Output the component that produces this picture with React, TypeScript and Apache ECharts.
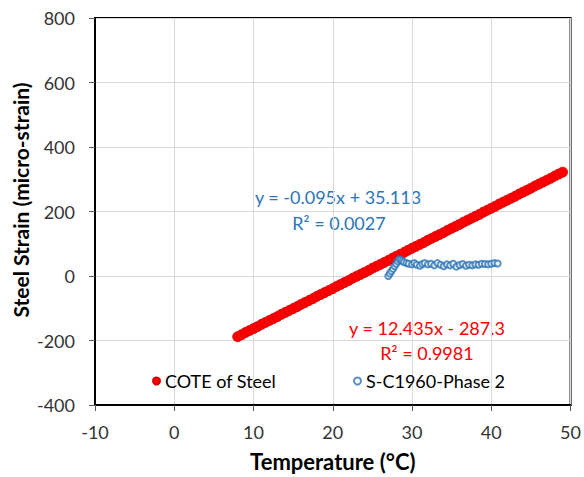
import React, { useEffect, useRef } from "react";
import * as echarts from "echarts";

const xTicks = { min: -10, max: 50, interval: 10 };
const yTicks = { min: -400, max: 800, interval: 200 };

const coteTemps = [
  8.0, 8.5, 9.0, 9.5, 10.0, 10.5, 11.0, 11.5, 12.0, 12.5, 13.0, 13.5, 14.0, 14.5, 15.0, 15.5,
  16.0, 16.5, 17.0, 17.5, 18.0, 18.5, 19.0, 19.5, 20.0, 20.5, 21.0, 21.5, 22.0, 22.5, 23.0, 23.5,
  24.0, 24.5, 25.0, 25.5, 26.0, 26.5, 27.0, 27.5, 28.0, 28.5, 29.0, 29.5, 30.0, 30.5, 31.0, 31.5,
  32.0, 32.5, 33.0, 33.5, 34.0, 34.5, 35.0, 35.5, 36.0, 36.5, 37.0, 37.5, 38.0, 38.5, 39.0, 39.5,
  40.0, 40.5, 41.0, 41.5, 42.0, 42.5, 43.0, 43.5, 44.0, 44.5, 45.0, 45.5, 46.0, 46.5, 47.0, 47.5,
  48.0, 48.5, 49.0,
];
const coteStrains = [
  -188, -182, -175, -169, -163, -157, -150, -144, -138, -132, -126, -119, -113, -107, -101, -95,
  -88, -82, -76, -70, -63, -57, -51, -45, -39, -32, -26, -20, -14, -7, -1, 5,
  11, 17, 24, 30, 36, 42, 48, 55, 61, 67, 73, 80, 86, 92, 98, 104,
  111, 117, 123, 129, 135, 142, 148, 154, 160, 167, 173, 179, 185, 191, 198, 204,
  210, 216, 223, 229, 235, 241, 247, 254, 260, 266, 272, 279, 285, 291, 297, 303,
  310, 316, 322,
];

const scTemps = [
  27.0, 27.2, 27.4, 27.6, 27.8, 28.0, 28.2, 28.4, 28.6, 28.8, 29.0, 29.3, 29.6, 30.0, 30.3, 30.6,
  31.0, 31.3, 31.6, 32.0, 32.4, 32.8, 33.2, 33.6, 34.0, 34.4, 34.8, 35.2, 35.6, 36.0, 36.4, 36.8,
  37.2, 37.6, 38.0, 38.4, 38.8, 39.2, 39.6, 40.0, 40.4, 40.8,
];
const scStrains = [
  0, 8, 15, 22, 30, 38, 46, 52, 50, 46, 43, 40, 38, 36, 40, 35,
  32, 37, 40, 36, 38, 33, 40, 35, 30, 36, 33, 38, 29, 34, 37, 32,
  35, 33, 36, 35, 38, 37, 36, 38, 40, 39,
];

const seriesNames = ["COTE of Steel", "S-C1960-Phase 2"];
const axisTitles = { x: "Temperature (°C)", y: "Steel Strain (micro-strain)" };
const blueEq = ["y = -0.095x + 35.113", "R² = 0.0027"];
const redEq = ["y = 12.435x - 287.3", "R² = 0.9981"];

const FONT = "Lato, 'Open Sans', sans-serif";
const RED = "#ff0000";
const BLUE = "#2e75b6";

export default function App() {
  const ref = useRef<HTMLDivElement>(null);
  useEffect(() => {
    if (!ref.current) return;
    const chart = echarts.init(ref.current, undefined, { renderer: "svg" });
    const cote = coteTemps.map((t, i) => [t, coteStrains[i]]);
    const sc = scTemps.map((t, i) => [t, scStrains[i]]);
    const eqText = (text: string, x: number, y: number, fill: string) => ({
      type: "text",
      x,
      y,
      style: { text, fill, font: `18px ${FONT}`, align: "center", verticalAlign: "middle" },
    });
    chart.setOption({
      animation: false,
      backgroundColor: "#fff",
      textStyle: { fontFamily: FONT },
      grid: {
        left: 95,
        top: 18,
        right: 10,
        bottom: 67,
        show: true,
        borderColor: "#000",
        borderWidth: 2,
      },
      xAxis: {
        type: "value",
        min: xTicks.min,
        max: xTicks.max,
        interval: xTicks.interval,
        name: axisTitles.x,
        nameLocation: "middle",
        nameGap: 45,
        nameTextStyle: { fontSize: 22, fontWeight: "bold", color: "#000", fontFamily: FONT },
        axisLine: { show: true, onZero: false, lineStyle: { color: "#000", width: 2 } },
        axisTick: { show: true, inside: false, length: 6, lineStyle: { color: "#595959" } },
        axisLabel: { fontSize: 18, color: "#333", margin: 18, fontFamily: FONT },
        splitLine: { show: true, lineStyle: { color: "#d9d9d9", width: 1 } },
      },
      yAxis: {
        type: "value",
        min: yTicks.min,
        max: yTicks.max,
        interval: yTicks.interval,
        axisLine: { show: true, onZero: false, lineStyle: { color: "#000", width: 2 } },
        axisTick: { show: true, inside: false, length: 6, lineStyle: { color: "#595959" } },
        axisLabel: { fontSize: 18, color: "#333", margin: 20, fontFamily: FONT },
        splitLine: { show: true, lineStyle: { color: "#d9d9d9", width: 1 } },
      },
      legend: [
        {
          data: [{ name: seriesNames[0], icon: "circle" }],
          left: 147,
          top: 367,
          itemWidth: 7,
          itemHeight: 7,
          itemGap: 6,
          textStyle: { fontSize: 18, color: "#000", fontFamily: FONT },
        },
        {
          data: [{ name: seriesNames[1], icon: "emptyCircle" }],
          left: 348,
          top: 367,
          itemWidth: 7,
          itemHeight: 7,
          textStyle: { fontSize: 18, color: "#000", fontFamily: FONT },
        },
      ],
      series: [
        {
          name: seriesNames[0],
          type: "scatter",
          data: cote,
          symbol: "circle",
          symbolSize: 10,
          itemStyle: { color: RED, borderColor: "#d00000", borderWidth: 0.8, opacity: 1 },
        },
        {
          name: seriesNames[1],
          type: "scatter",
          data: sc,
          symbol: "emptyCircle",
          symbolSize: 6,
          itemStyle: { color: BLUE, borderColor: BLUE, borderWidth: 1.5 },
        },
      ],
      graphic: [
        {
          type: "text",
          x: 20,
          y: 200,
          rotation: Math.PI / 2,
          style: {
            text: axisTitles.y,
            fill: "#000",
            font: `bold 21px ${FONT}`,
            align: "center",
            verticalAlign: "middle",
          },
        },
        eqText(blueEq[0], 338, 197, BLUE),
        eqText(blueEq[1], 339, 223, BLUE),
        eqText(redEq[0], 427, 328, RED),
        eqText(redEq[1], 427, 353, RED),
      ],
    });
    return () => chart.dispose();
  }, []);
  return (
    <div
      ref={ref}
      style={{ position: "fixed", left: 0, top: 0, width: 584, height: 477 }}
    />
  );
}
